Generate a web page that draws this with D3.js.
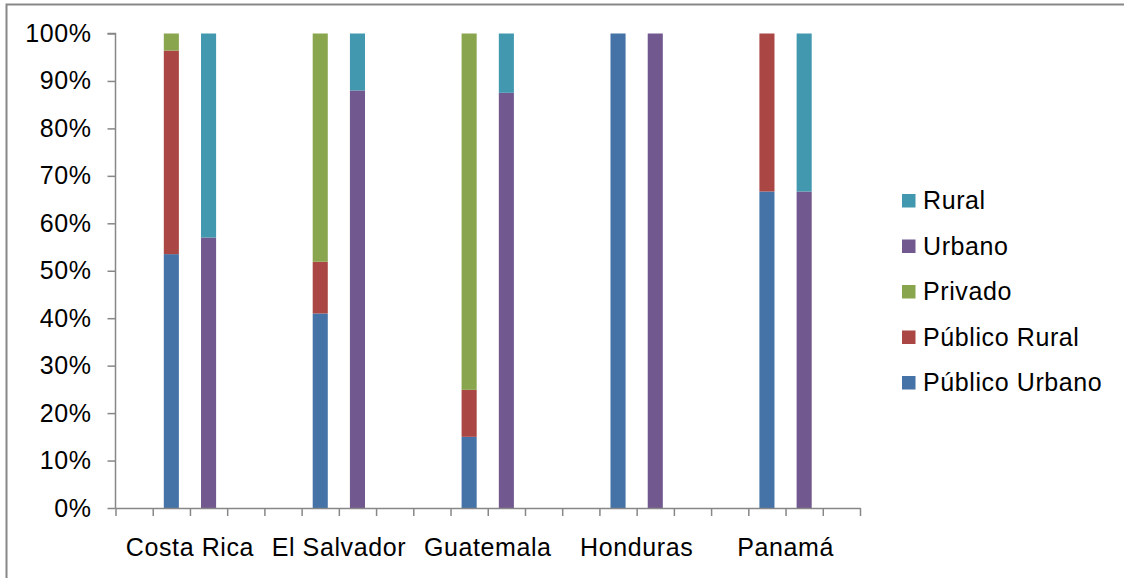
<!DOCTYPE html>
<html>
<head>
<meta charset="utf-8">
<script src="https://cdn.jsdelivr.net/npm/d3@7"></script>
<style>
  html, body { margin: 0; padding: 0; background: #fff; }
  svg { display: block; font-family: Arial, "Liberation Sans", sans-serif; }
</style>
</head>
<body>
<svg id="chart" width="1124" height="578"></svg>
<script>
const countries = ["Costa Rica", "El Salvador", "Guatemala", "Honduras", "Panamá"];
// first stacked bar: provider type
const publicoUrbano = [53.5, 41.0, 15.0, 100, 66.7];
const publicoRural  = [42.9, 10.9, 9.9, 0, 33.3];
const privado       = [3.6, 48.1, 75.1, 0, 0];
// second stacked bar: zone
const urbano = [57.0, 88.0, 87.5, 100, 66.7];
const rural  = [43.0, 12.0, 12.5, 0, 33.3];
const yTicks = [0, 10, 20, 30, 40, 50, 60, 70, 80, 90, 100];
const legendNames = ["Rural", "Urbano", "Privado", "Público Rural", "Público Urbano"];

const colors = {
  "Público Urbano": "#4572A7",
  "Público Rural": "#AA4643",
  "Privado": "#89A54E",
  "Urbano": "#71588F",
  "Rural": "#4198AF"
};

const svg = d3.select("#chart");
const axisColor = "#878787";
const fontSize = 25;

// chart border
svg.append("rect").attr("x", 6.5).attr("y", 4.5).attr("width", 1200).attr("height", 700)
  .attr("fill", "none").attr("stroke", axisColor).attr("stroke-width", 2);

const plotLeft = 115.5, plotRight = 860, plotTop = 33.5, plotBottom = 508;

const x0 = d3.scaleBand().domain(countries).range([plotLeft, plotRight]).padding(0);
const slots = ["s0", "prov", "zona", "s3"];
const x1 = d3.scaleBand().domain(slots).range([0, x0.bandwidth()]).padding(0);
const y = d3.scaleLinear().domain([0, 100]).range([plotBottom, plotTop]);
const barW = x1.bandwidth() * 0.405;

const provKeys = ["Público Urbano", "Público Rural", "Privado"];
const zoneKeys = ["Urbano", "Rural"];
const provRows = countries.map((c, i) => ({ country: c, "Público Urbano": publicoUrbano[i], "Público Rural": publicoRural[i], "Privado": privado[i] }));
const zoneRows = countries.map((c, i) => ({ country: c, "Urbano": urbano[i], "Rural": rural[i] }));

function drawStack(rows, keys, slot) {
  const series = d3.stack().keys(keys)(rows);
  series.forEach(s => {
    svg.append("g").selectAll("rect").data(s.filter(d => d[1] - d[0] > 0)).join("rect")
      .attr("x", d => x0(d.data.country) + x1(slot) + (x1.bandwidth() - barW) / 2)
      .attr("width", barW)
      .attr("y", d => y(d[1]))
      .attr("height", d => y(d[0]) - y(d[1]))
      .attr("fill", colors[s.key]);
  });
}
drawStack(provRows, provKeys, "prov");
drawStack(zoneRows, zoneKeys, "zona");

// Y axis
const yAxis = svg.append("g").attr("transform", `translate(${plotLeft},0)`)
  .call(d3.axisLeft(y).tickValues(yTicks).tickFormat(d => d + "%").tickSize(8).tickPadding(16));
yAxis.selectAll("path, line").attr("stroke", axisColor).attr("stroke-width", 1.5);
yAxis.select(".domain").attr("d", `M-8,${y(100)}H0V${y(0)}`);
yAxis.selectAll("text").attr("font-size", fontSize).attr("fill", "#000")
  .attr("font-family", "Arial, 'Liberation Sans', sans-serif").attr("letter-spacing", 0.6);

// X axis (slot boundary ticks)
const xs = d3.scaleLinear().domain([0, 20]).range([plotLeft, plotRight]);
const xAxis = svg.append("g").attr("transform", `translate(0,${plotBottom})`)
  .call(d3.axisBottom(xs).tickValues(d3.range(21)).tickFormat("").tickSize(8).tickSizeOuter(0));
xAxis.selectAll("path, line").attr("stroke", axisColor).attr("stroke-width", 1.5);

// Country labels
const xLab = svg.append("g").attr("transform", `translate(0,${plotBottom})`)
  .call(d3.axisBottom(x0).tickSize(0).tickPadding(30));
xLab.select(".domain").remove();
xLab.selectAll("text").attr("font-size", fontSize).attr("fill", "#000")
  .attr("font-family", "Arial, 'Liberation Sans', sans-serif").attr("letter-spacing", 0.6);

// Legend
const lg = svg.append("g");
legendNames.forEach((name, i) => {
  const yy = 209 + i * 45.5;
  lg.append("rect").attr("x", 902).attr("y", yy - 15).attr("width", 13.5).attr("height", 13.5)
    .attr("fill", colors[name]);
  lg.append("text").attr("x", 923).attr("y", yy).text(name)
    .attr("font-size", fontSize).attr("fill", "#000").attr("letter-spacing", 0.6);
});
</script>
</body>
</html>
